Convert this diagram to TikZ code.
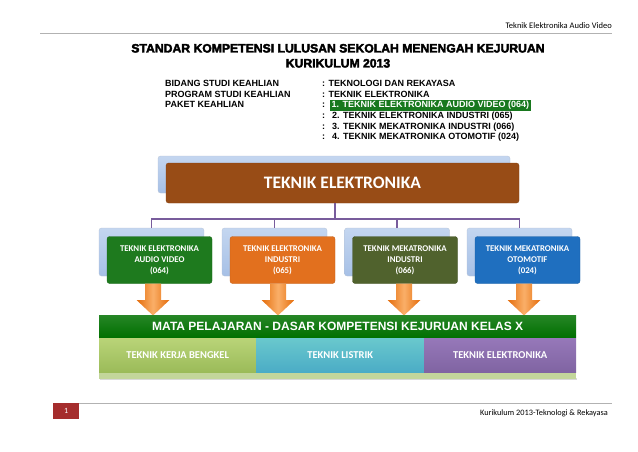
\documentclass[tikz,border=0pt]{standalone}
\usepackage{fontspec}
\setmainfont{Liberation Sans}
\newfontfamily\calfont{Carlito}
\newfontfamily\heavyfont[FakeBold=3]{Liberation Sans Bold}
\usetikzlibrary{calc}
\definecolor{brownbox}{RGB}{152,76,22}
\definecolor{backblue}{RGB}{166,192,230}
\definecolor{backblue2}{RGB}{196,214,240}
\definecolor{gbox}{RGB}{30,122,30}
\definecolor{obox}{RGB}{226,112,30}
\definecolor{olbox}{RGB}{80,98,45}
\definecolor{bbox}{RGB}{31,111,191}
\definecolor{connc}{RGB}{120,92,156}
\definecolor{arrdark}{RGB}{228,108,10}
\definecolor{arrlight}{RGB}{250,175,105}
\definecolor{mpgreen}{RGB}{0,112,0}
\definecolor{limec}{RGB}{155,187,89}
\definecolor{limelight}{RGB}{185,212,120}
\definecolor{tealc}{RGB}{75,172,198}
\definecolor{teallight}{RGB}{105,200,205}
\definecolor{purpc}{RGB}{128,100,162}
\definecolor{purplight}{RGB}{150,120,185}
\definecolor{limebar}{RGB}{195,214,155}
\definecolor{hlgreen}{RGB}{24,120,30}
\definecolor{redpg}{RGB}{165,45,45}
\begin{document}
\begin{tikzpicture}[x=1pt,y=-1pt,
  backbox/.style={rectangle, rounded corners=2.5pt, top color=backblue2, bottom color=backblue, draw=backblue!80!black!60, line width=0.3pt, minimum width=105pt, minimum height=48pt, inner sep=0pt},
  frontbox/.style={rectangle, rounded corners=2.5pt, fill=#1, draw=#1!85!black, line width=0.3pt, minimum width=105pt, minimum height=47pt, inner sep=0pt, text=white, align=center, font=\calfont\bfseries\fontsize{8.8}{11}\selectfont},
  conn/.style={draw=connc, line width=1.1pt},
  infotxt/.style={anchor=base west, inner sep=0pt, font=\bfseries\fontsize{9}{10}\selectfont},
  rowbox/.style={rectangle, minimum height=34pt, inner sep=0pt, text=white, font=\calfont\bfseries\fontsize{10.5}{12}\selectfont}
]
\useasboundingbox (0,0) rectangle (638,452);
% header
\node[anchor=base east, inner sep=0pt, font=\calfont\fontsize{8.5}{10}\selectfont] (hdr) at (612,29) {Teknik Elektronika Audio Video};
\draw[gray!60, line width=0.8pt] (40,33) -- (612,33);
% title
\node[anchor=base, inner sep=0pt, font=\heavyfont\fontsize{12.2}{14}\selectfont] (title1) at (338,52.5) {STANDAR KOMPETENSI LULUSAN SEKOLAH MENENGAH KEJURUAN};
\node[anchor=base, inner sep=0pt, font=\heavyfont\fontsize{12.2}{14}\selectfont] (title2) at (338,67.5) {KURIKULUM 2013};
% info
\node[infotxt] (l1) at (165,86.8) {BIDANG STUDI KEAHLIAN};
\node[infotxt] (l2) at (165,97.4) {PROGRAM STUDI KEAHLIAN};
\node[infotxt] (l3) at (165,108) {PAKET KEAHLIAN};
\node[infotxt] (r1) at (322,86.8) {: TEKNOLOGI DAN REKAYASA};
\node[infotxt] (r2) at (322,97.4) {: TEKNIK ELEKTRONIKA};
\node[infotxt] (r3c) at (322,108) {:};
\node[infotxt, fill=hlgreen, text=white, inner xsep=1.5pt, inner ysep=1.6pt] (r3) at (330,108) {1. TEKNIK ELEKTRONIKA AUDIO VIDEO (064)};
\node[infotxt] (r4c) at (322,118.6) {:};
\node[infotxt] (r4) at (332,118.6) {2. TEKNIK ELEKTRONIKA INDUSTRI (065)};
\node[infotxt] (r5c) at (322,129.2) {:};
\node[infotxt] (r5) at (332,129.2) {3. TEKNIK MEKATRONIKA INDUSTRI (066)};
\node[infotxt] (r6c) at (322,139.8) {:};
\node[infotxt] (r6) at (332,139.8) {4. TEKNIK MEKATRONIKA OTOMOTIF (024)};
% main box
\node[backbox, minimum width=352pt, minimum height=37pt] (teb) at (334,174.5) {};
\node[rectangle, rounded corners=2.5pt, fill=brownbox, draw=brownbox!85!black, line width=0.3pt, minimum width=353pt, minimum height=40pt, text=white, font=\calfont\bfseries\fontsize{17.5}{20}\selectfont] (te) at (342.5,183) {TEKNIK ELEKTRONIKA};
% connectors
\coordinate (hub) at (335,219);
\node[backbox] (b1b) at (151.5,252) {};
\node[backbox] (b2b) at (274.5,252) {};
\node[backbox] (b3b) at (397,252) {};
\node[backbox] (b4b) at (519.5,252) {};
\draw[conn] (te.south -| hub) -- (hub);
\draw[conn] (hub) -| (b1b.north);
\draw[conn] (hub) -| (b2b.north);
\draw[conn] (hub) -| (b3b.north);
\draw[conn] (hub) -| (b4b.north);
\node[frontbox=gbox] (b1) at (159.5,260) {TEKNIK ELEKTRONIKA\\AUDIO VIDEO\\(064)};
\node[frontbox=obox] (b2) at (282.5,260) {TEKNIK ELEKTRONIKA\\INDUSTRI\\(065)};
\node[frontbox=olbox] (b3) at (405,260) {TEKNIK MEKATRONIKA\\INDUSTRI\\(066)};
\node[frontbox=bbox] (b4) at (527.5,260) {TEKNIK MEKATRONIKA\\OTOMOTIF\\(024)};
% arrows
\foreach \c in {153,278,404,524}{
  \shade[left color=arrdark, right color=arrdark, middle color=arrlight]
    (\c-8,283.5) -- (\c+8,283.5) -- (\c+8,300) -- (\c+16.5,300) -- (\c,315.5) -- (\c-16.5,300) -- (\c-8,300) -- cycle;
}
% bottom block
\fill[black!15] (100,378) rectangle (577,380);
\fill[limebar] (99,372) rectangle (576,378.5);
\node[rectangle, anchor=north west, minimum width=477pt, minimum height=22.5pt, inner sep=0pt, top color=mpgreen!85!white, bottom color=mpgreen, text=white, font=\bfseries\fontsize{12}{13}\selectfont] (mp) at (99,315) {MATA PELAJARAN - DASAR KOMPETENSI KEJURUAN KELAS X};
\node[rowbox, anchor=north west, minimum width=157pt, top color=limelight, bottom color=limec] (k1) at (99,338) {TEKNIK KERJA BENGKEL};
\node[rowbox, anchor=north west, minimum width=168pt, top color=teallight, bottom color=tealc] (k2) at (256,338) {TEKNIK LISTRIK};
\node[rowbox, anchor=north west, minimum width=152pt, top color=purplight, bottom color=purpc] (k3) at (424,338) {TEKNIK ELEKTRONIKA};
% footer
\node[rectangle, anchor=north west, fill=redpg, minimum width=26pt, minimum height=16pt, inner sep=0pt, text=white, font=\calfont\fontsize{8}{9}\selectfont] (pg) at (53,403) {1};
\draw[gray!60, line width=0.8pt] (pg.north east) -- (612,403);
\node[anchor=base east, inner sep=0pt, font=\calfont\fontsize{8.3}{9}\selectfont] (ftr) at (608,415) {Kurikulum 2013-Teknologi \& Rekayasa};
\end{tikzpicture}
\end{document}
